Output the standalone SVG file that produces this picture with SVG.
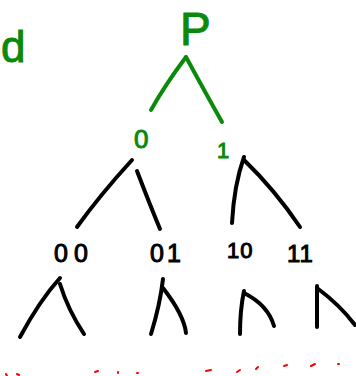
<svg xmlns="http://www.w3.org/2000/svg" width="356" height="376" viewBox="0 0 356 376">
<style>
.g{stroke:#0a8a0a;fill:none;stroke-width:4;stroke-linecap:round;stroke-linejoin:round}
.k{stroke:#000;fill:none;stroke-width:4;stroke-linecap:round;stroke-linejoin:round}
.r{stroke:#f00;stroke-width:2;stroke-linecap:round}
.tg{font-family:"Liberation Sans",Arial,sans-serif;fill:#0a8a0a;stroke:#0a8a0a;stroke-width:1}
.tk{font-family:"Liberation Sans",Arial,sans-serif;fill:#000;stroke:#000;stroke-width:1}
</style>
<rect width="356" height="376" fill="#fff"/>
<g id="mark"><text class="tg" x="1" y="62" font-size="44">d</text></g>
<g id="root"><text class="tg" x="180" y="45" font-size="46">P</text></g>
<g id="n0"><text class="tg" x="134" y="148" font-size="26">0</text></g>
<g id="n1"><text class="tg" x="217" y="158" font-size="22">1</text></g>
<g id="n00"><text class="tk" x="54" y="262" font-size="25" letter-spacing="6">00</text></g>
<g id="n01"><text class="tk" x="150" y="262" font-size="25" letter-spacing="3">01</text></g>
<g id="n10"><text class="tk" x="227" y="258" font-size="22" letter-spacing="1">10</text></g>
<g id="n11"><text class="tk" x="287" y="262" font-size="24" letter-spacing="1">11</text></g>
<g id="connectors">
<path class="g" d="M186 57 Q165 85 151 110"/>
<path class="g" d="M186 57 Q205 92 222 122"/>
<path class="k" d="M132 160 Q100 195 77 227"/>
<path class="k" d="M137 171 Q150 205 160 229"/>
<path class="k" d="M244 157 Q234 185 232 223"/>
<path class="k" d="M244 160 Q275 190 300 227"/>
<path class="k" d="M60 278 Q40 300 20 337"/>
<path class="k" d="M60 284 Q68 310 84 334"/>
<path class="k" d="M163 279 Q160 305 151 334"/>
<path class="k" d="M163 288 Q184 315 186 333"/>
<path class="k" d="M244 291 Q240 310 240 334"/>
<path class="k" d="M244 293 Q268 305 274 326"/>
<path class="k" d="M317 286 Q317 305 317 327"/>
<path class="k" d="M317 288 Q340 305 355 325"/>
</g>
<g id="redmarks">
<line class="r" x1="6" y1="374" x2="7" y2="376"/>
<line class="r" x1="17" y1="374" x2="19" y2="375"/>
<line class="r" x1="95" y1="372" x2="98" y2="371"/>
<line class="r" x1="118" y1="372" x2="118" y2="373"/>
<line class="r" x1="137" y1="373" x2="138" y2="373"/>
<line class="r" x1="206" y1="371" x2="211" y2="370"/>
<line class="r" x1="237" y1="372" x2="240" y2="370"/>
<line class="r" x1="256" y1="369" x2="258" y2="367"/>
<line class="r" x1="284" y1="366" x2="287" y2="365"/>
<line class="r" x1="311" y1="366" x2="315" y2="364"/>
<line class="r" x1="338" y1="364" x2="339" y2="364"/>
</g>
</svg>
